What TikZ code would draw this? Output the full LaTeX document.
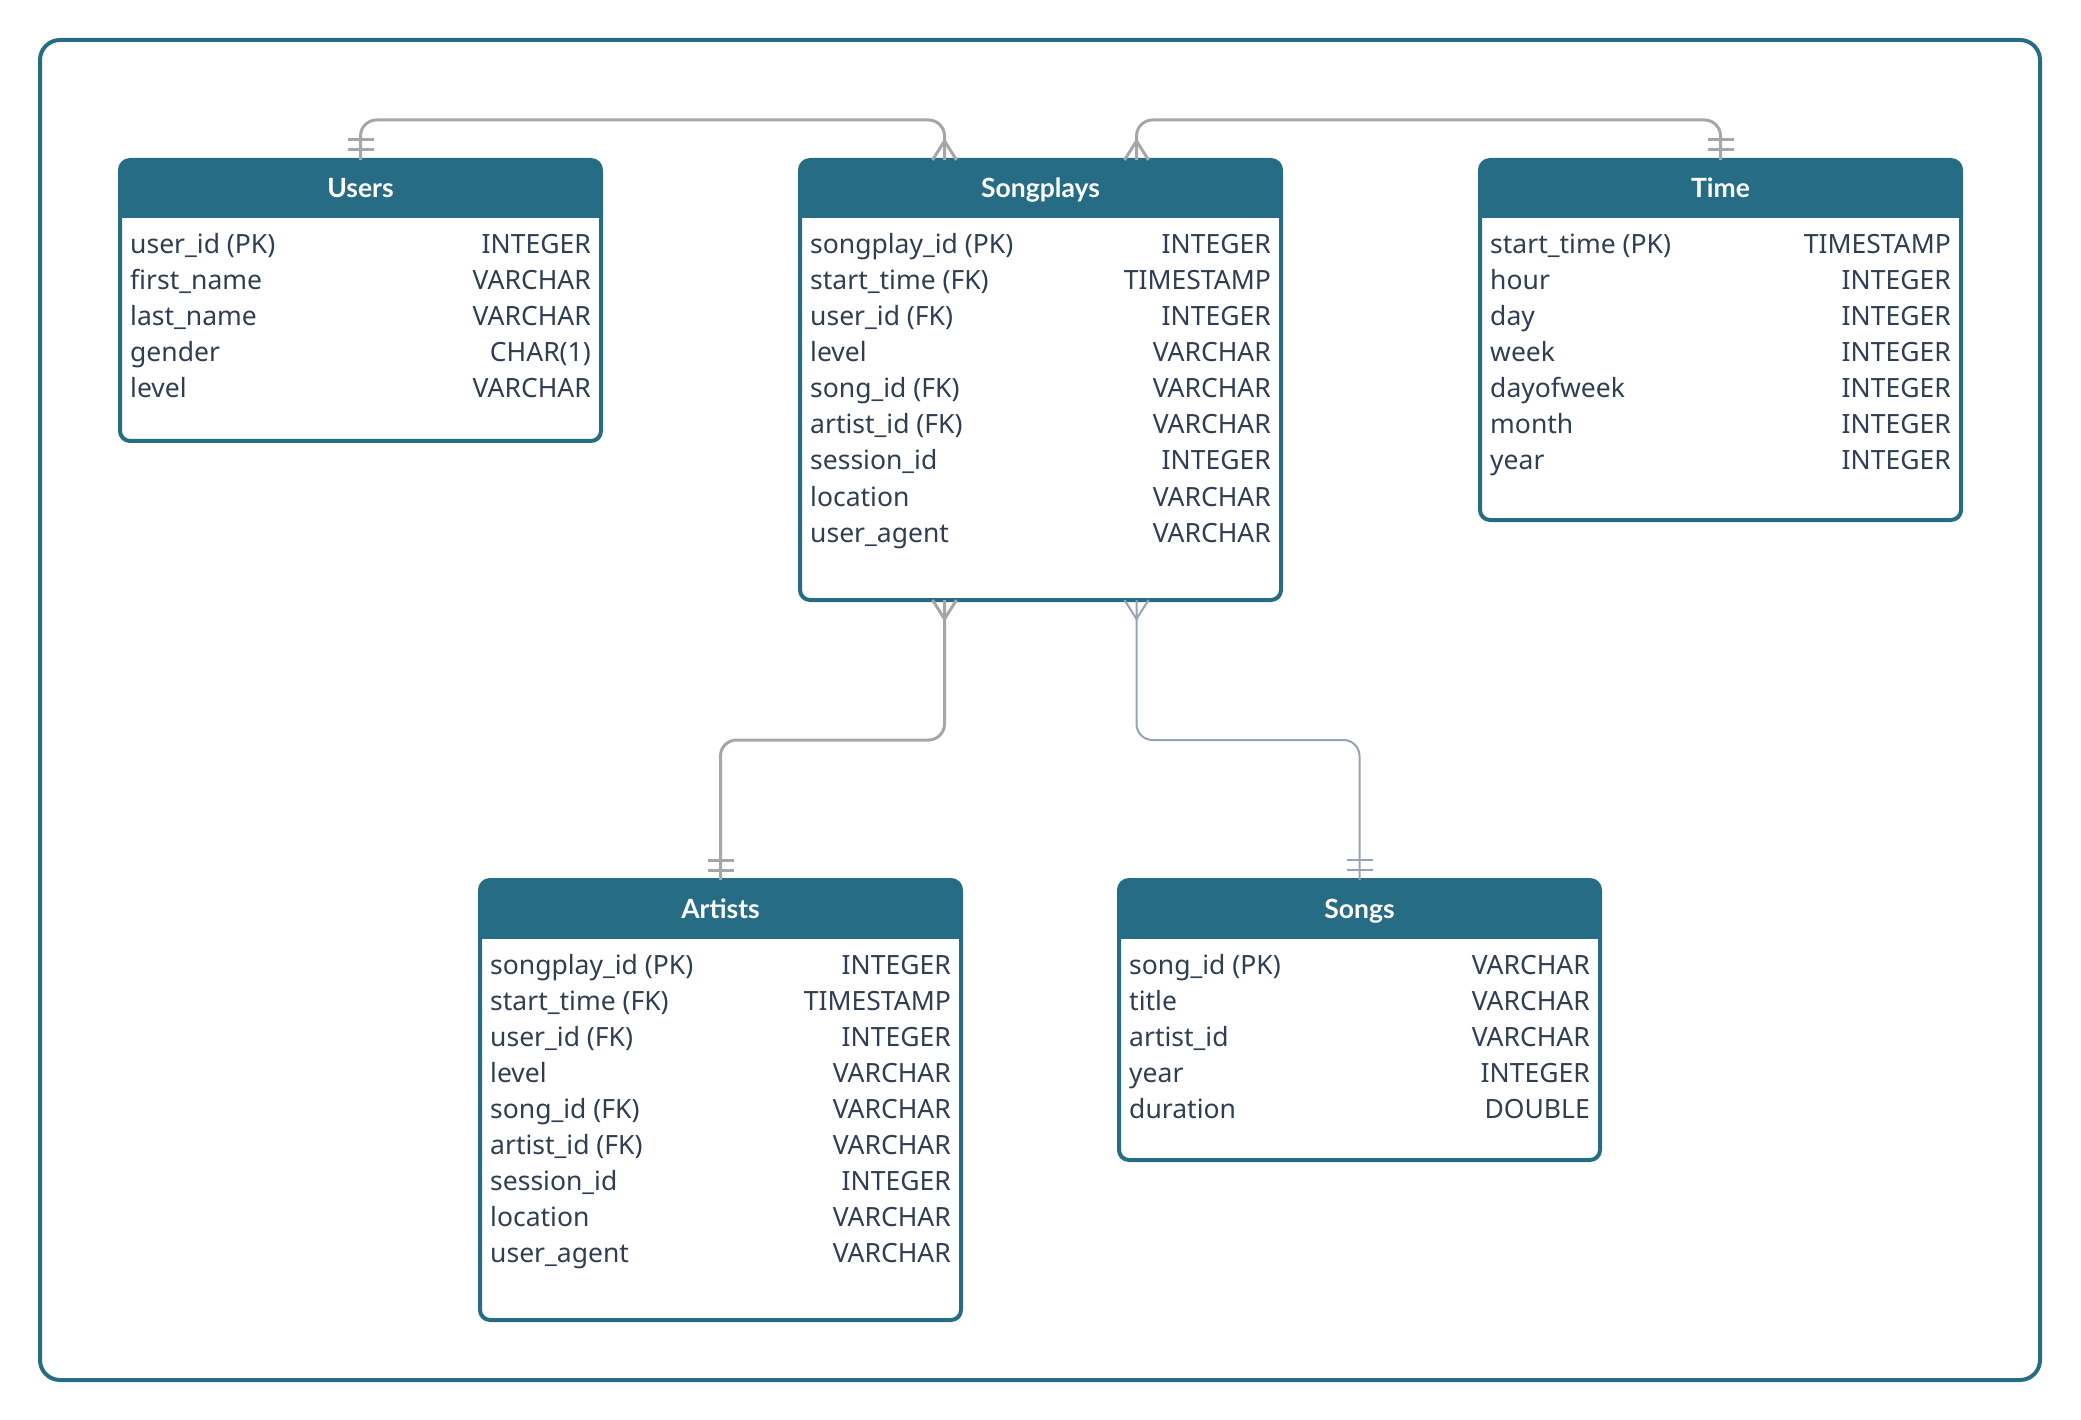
\documentclass[tikz,border=0pt]{standalone}
\usepackage{fontspec}
\setmainfont{Noto Sans}
\newfontfamily\headfont{Lato}
\usetikzlibrary{calc}

\definecolor{erteal}{HTML}{256C84}
\definecolor{erink}{HTML}{2F3E52}
\definecolor{relgray}{HTML}{A6A6A6}
\definecolor{relblue}{HTML}{98A2B6}

\tikzset{
  x=1pt, y=-1pt,
  framebox/.style={draw=erteal, line width=4pt, rounded corners=20pt,
    minimum width=2000pt, minimum height=1340pt, inner sep=0pt, outer sep=0pt},
  tablebox/.style={draw=erteal, line width=4pt, fill=white, rounded corners=10pt,
    minimum width=481pt, inner sep=0pt, outer sep=0pt, anchor=north west},
  headfill/.style={fill=erteal},
  headtext/.style={text=white, font=\headfont\bfseries\fontsize{26.5}{31}\selectfont,
    inner sep=0pt, anchor=base},
  fieldtext/.style={text=erink, font=\fontsize{26.5}{31}\selectfont, inner sep=0pt},
  rel/.style={draw=relgray, line width=3pt, rounded corners=16pt},
  relthin/.style={draw=relblue, line width=2pt, rounded corners=16pt},
}

% #1 name, #2 left, #3 top, #4 height, #5 title, #6 field/type list
\newcommand{\ertable}[6]{%
  \node[tablebox, minimum height=#4pt] (#1) at (#2,#3) {};
  \begin{scope}
    \clip (#1.north west) ++(-4,-4) rectangle ($(#1.north east)+(4,58)$);
    \fill[headfill, rounded corners=10pt] (#1.north west) rectangle (#1.south east);
  \end{scope}
  \node[headtext] (#1-title) at ($(#1.north)+(0,38)$) {#5};
  \foreach \fld/\typ [count=\i] in {#6} {
    \pgfmathsetmacro\rowy{94+36*(\i-1)}
    \node[fieldtext, anchor=base west] (#1-f\i) at ($(#1.north west)+(10,\rowy)$) {\fld};
    \node[fieldtext, anchor=base east] (#1-t\i) at ($(#1.north east)+(-10,\rowy)$) {\typ};
  }
}

% crow's foot (many) at a box edge; #3 = -1 above the box, 1 below
\newcommand{\manyend}[3]{%
  \draw[#1, sharp corners] ($(#2)+(-12,0)$) -- ($(#2)+(0,#3*19)$) -- ($(#2)+(12,0)$);
}
% double bar (one and only one) at a box edge
\newcommand{\oneend}[3]{%
  \draw[#1, sharp corners] ($(#2)+(-13,#3*10)$) -- ($(#2)+(13,#3*10)$);
  \draw[#1, sharp corners] ($(#2)+(-13,#3*20)$) -- ($(#2)+(13,#3*20)$);
}

\begin{document}
\begin{tikzpicture}
  \useasboundingbox (0,0) rectangle (2081,1420);
  \node[framebox] (frame) at (1040,710) {};

  \ertable{users}{120}{160}{281}{Users}{%
    user\_id (PK)/INTEGER, first\_name/VARCHAR, last\_name/VARCHAR,
    gender/CHAR(1), level/VARCHAR}

  \ertable{songplays}{800}{160}{440}{Songplays}{%
    songplay\_id (PK)/INTEGER, start\_time (FK)/TIMESTAMP, user\_id (FK)/INTEGER,
    level/VARCHAR, song\_id (FK)/VARCHAR, artist\_id (FK)/VARCHAR,
    session\_id/INTEGER, location/VARCHAR, user\_agent/VARCHAR}

  \ertable{timetbl}{1480}{160}{360}{Time}{%
    start\_time (PK)/TIMESTAMP, hour/INTEGER, day/INTEGER, week/INTEGER,
    dayofweek/INTEGER, month/INTEGER, year/INTEGER}

  \ertable{artists}{480}{880}{440}{Artists}{%
    songplay\_id (PK)/INTEGER, start\_time (FK)/TIMESTAMP, user\_id (FK)/INTEGER,
    level/VARCHAR, song\_id (FK)/VARCHAR, artist\_id (FK)/VARCHAR,
    session\_id/INTEGER, location/VARCHAR, user\_agent/VARCHAR}

  \ertable{songs}{1119}{880}{280}{Songs}{%
    song\_id (PK)/VARCHAR, title/VARCHAR, artist\_id/VARCHAR,
    year/INTEGER, duration/DOUBLE}

  % connection points on the Songplays box
  \coordinate (spTL) at ($(songplays.north)+(-96,0)$);
  \coordinate (spTR) at ($(songplays.north)+(96,0)$);
  \coordinate (spBL) at ($(songplays.south)+(-96,0)$);
  \coordinate (spBR) at ($(songplays.south)+(96,0)$);

  % relationships
  \draw[rel] (users.north) -- ++(0,-40) -| (spTL);
  \draw[rel] (timetbl.north) -- ++(0,-40) -| (spTR);
  \draw[rel] (spBL) -- ++(0,140) -| (artists.north);
  \draw[relthin] (spBR) -- ++(0,140) -| (songs.north);

  % cardinality marks
  \manyend{rel}{spTL}{-1}
  \manyend{rel}{spTR}{-1}
  \manyend{rel}{spBL}{1}
  \manyend{relthin}{spBR}{1}
  \oneend{rel}{users.north}{-1}
  \oneend{rel}{timetbl.north}{-1}
  \oneend{rel}{artists.north}{-1}
  \oneend{relthin}{songs.north}{-1}
\end{tikzpicture}
\end{document}
